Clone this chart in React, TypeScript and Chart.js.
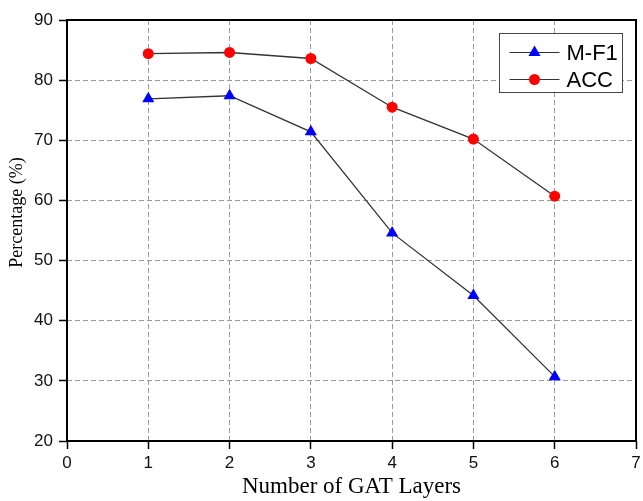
import { useEffect, useRef } from 'react';
import { Chart, registerables } from 'chart.js';

Chart.register(...registerables);

const layers = [1, 2, 3, 4, 5, 6];
const mf1Values = [76.9, 77.4, 71.4, 54.6, 44.2, 30.7];
const accValues = [84.4, 84.6, 83.6, 75.5, 70.2, 60.7];
const seriesNames = ['M-F1', 'ACC'];
const xTitle = 'Number of GAT Layers';
const yTitle = 'Percentage (%)';
const xRange = [0, 7];
const yRange = [20, 90];

const SANS = "'Liberation Sans', Arial, sans-serif";
const SERIF = "'Liberation Serif', 'Times New Roman', serif";

function drawMarker(ctx: CanvasRenderingContext2D, style: string, x: number, y: number, r: number, color: string) {
  ctx.save();
  ctx.fillStyle = color;
  ctx.beginPath();
  if (style === 'triangle') {
    let rad = 0;
    ctx.moveTo(x + Math.sin(rad) * r, y - Math.cos(rad) * r);
    rad += (2 * Math.PI) / 3;
    ctx.lineTo(x + Math.sin(rad) * r, y - Math.cos(rad) * r);
    rad += (2 * Math.PI) / 3;
    ctx.lineTo(x + Math.sin(rad) * r, y - Math.cos(rad) * r);
    ctx.closePath();
  } else {
    ctx.arc(x, y, r, 0, Math.PI * 2);
  }
  ctx.fill();
  ctx.restore();
}

const framePlugin = {
  id: 'frameAndLegend',
  beforeDatasetsDraw(chart: any) {
    const { ctx, chartArea } = chart;
    ctx.save();
    ctx.strokeStyle = '#000';
    ctx.lineWidth = 2;
    ctx.strokeRect(chartArea.left, chartArea.top, chartArea.right - chartArea.left, chartArea.bottom - chartArea.top);
    ctx.restore();
  },
  afterDraw(chart: any) {
    const { ctx, chartArea } = chart;
    // y title
    ctx.save();
    ctx.fillStyle = '#000';
    ctx.font = `18px ${SERIF}`;
    ctx.textAlign = 'center';
    ctx.textBaseline = 'middle';
    ctx.translate(17, (chartArea.top + chartArea.bottom) / 2 - 18);
    ctx.rotate(-Math.PI / 2);
    ctx.fillText(yTitle, 0, 0);
    ctx.restore();

    // legend
    const bw = 123;
    const bh = 59;
    const bx = Math.round(chartArea.right - 14 - bw) + 0.5;
    const by = Math.round(chartArea.top + 13) + 0.5;
    ctx.save();
    ctx.fillStyle = '#fff';
    ctx.fillRect(bx, by, bw, bh);
    ctx.strokeStyle = '#444';
    ctx.lineWidth = 1;
    ctx.strokeRect(bx, by, bw, bh);
    const datasets = chart.data.datasets;
    datasets.forEach((ds: any, i: number) => {
      const ry = by + 19 + i * 27;
      ctx.strokeStyle = '#333';
      ctx.lineWidth = 1.2;
      ctx.beginPath();
      ctx.moveTo(bx + 10, ry);
      ctx.lineTo(bx + 60, ry);
      ctx.stroke();
      drawMarker(ctx, ds.pointStyle, bx + 35, ry, ds.pointRadius, ds.pointBackgroundColor);
      ctx.fillStyle = '#000';
      ctx.font = `22px ${SANS}`;
      ctx.textAlign = 'left';
      ctx.textBaseline = 'middle';
      ctx.fillText(ds.label, bx + 67, ry + 1);
    });
    ctx.restore();
  },
};

export default function App() {
  const canvasRef = useRef<HTMLCanvasElement | null>(null);

  useEffect(() => {
    document.body.style.margin = '0';
    const canvas = canvasRef.current;
    if (!canvas) return;
    const chart = new Chart(canvas, {
      type: 'line',
      data: {
        datasets: [
          {
            label: seriesNames[0],
            data: layers.map((x, i) => ({ x, y: mf1Values[i] })),
            borderColor: '#333',
            borderWidth: 1.3,
            pointStyle: 'triangle',
            pointRadius: 7,
            pointBackgroundColor: '#0000ff',
            pointBorderColor: '#0000ff',
            pointBorderWidth: 0,
            fill: false,
            tension: 0,
          },
          {
            label: seriesNames[1],
            data: layers.map((x, i) => ({ x, y: accValues[i] })),
            borderColor: '#333',
            borderWidth: 1.3,
            pointStyle: 'circle',
            pointRadius: 5.5,
            pointBackgroundColor: '#ff0000',
            pointBorderColor: '#ff0000',
            pointBorderWidth: 0,
            fill: false,
            tension: 0,
          },
        ],
      },
      options: {
        responsive: false,
        animation: false,
        devicePixelRatio: 1,
        layout: { padding: { top: 20, right: 6, left: 0, bottom: 0 } },
        plugins: {
          legend: { display: false },
          tooltip: { enabled: false },
        },
        scales: {
          x: {
            type: 'linear',
            min: xRange[0],
            max: xRange[1],
            afterFit: (scale: any) => {
              scale.height = 60;
              scale.paddingRight = 0;
              scale.paddingLeft = 0;
            },
            ticks: {
              stepSize: 1,
              color: '#111',
              padding: 4,
              font: { family: SANS, size: 17 },
            },
            grid: {
              color: '#9a9a9a',
              lineWidth: 1,
              drawTicks: true,
              tickLength: 8,
              tickColor: '#000',
              tickWidth: 1.5,
              tickBorderDash: [],
            },
            border: { display: false, dash: [5, 3] },
            title: {
              display: true,
              text: xTitle,
              color: '#000',
              font: { family: SERIF, size: 23 },
              padding: { top: 0, bottom: 0 },
            },
          },
          y: {
            type: 'linear',
            min: yRange[0],
            max: yRange[1],
            afterFit: (scale: any) => {
              scale.width = 67;
              scale.paddingTop = 0;
              scale.paddingBottom = 0;
            },
            ticks: {
              stepSize: 10,
              color: '#111',
              padding: 6,
              font: { family: SANS, size: 17 },
            },
            grid: {
              color: '#9a9a9a',
              lineWidth: 1,
              drawTicks: true,
              tickLength: 8,
              tickColor: '#000',
              tickWidth: 1.5,
              tickBorderDash: [],
            },
            border: { display: false, dash: [5, 3] },
          },
        },
      },
      plugins: [framePlugin],
    } as any);
    return () => chart.destroy();
  }, []);

  return (
    <div style={{ width: 643, height: 501 }}>
      <canvas ref={canvasRef} width={643} height={501} style={{ display: 'block' }} />
    </div>
  );
}
